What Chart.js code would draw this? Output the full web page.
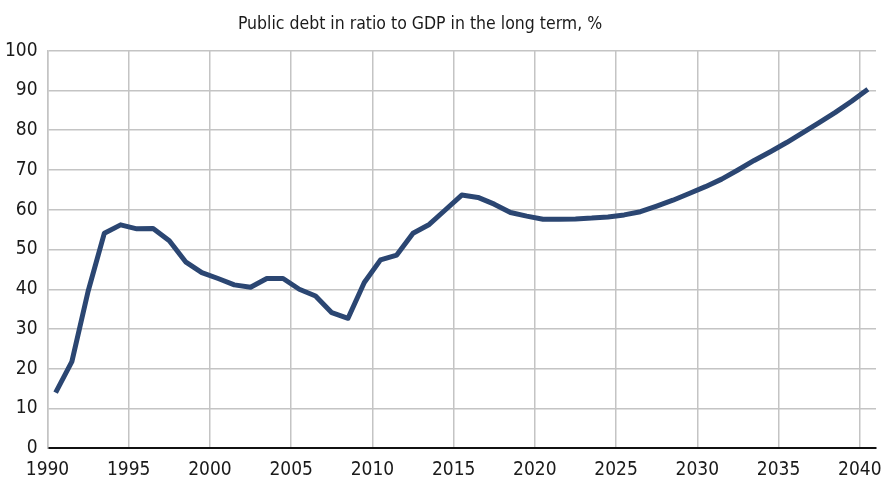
<!DOCTYPE html>
<html>
<head>
<meta charset="utf-8">
<script src="https://cdn.jsdelivr.net/npm/chart.js@4/dist/chart.umd.min.js"></script>
<style>
    html, body { margin: 0; padding: 0; background: #fff; }
    #wrap { width: 882px; height: 486px; }
</style>
</head>
<body>
<div id="wrap"><canvas id="debtChart"></canvas></div>
<script>
// Годы (точки стоят в середине года)
const years = [
    1990, 1991, 1992, 1993, 1994, 1995, 1996, 1997, 1998, 1999,
    2000, 2001, 2002, 2003, 2004, 2005, 2006, 2007, 2008, 2009,
    2010, 2011, 2012, 2013, 2014, 2015, 2016, 2017, 2018, 2019,
    2020, 2021, 2022, 2023, 2024, 2025, 2026, 2027, 2028, 2029,
    2030, 2031, 2032, 2033, 2034, 2035, 2036, 2037, 2038, 2039,
    2040
];
// Госдолг, % ВВП
const debtValues = [
    14.0, 21.8, 39.5, 54.1, 56.2, 55.2, 55.3, 52.2, 46.9, 44.2,
    42.7, 41.1, 40.5, 42.7, 42.7, 40.0, 38.3, 34.1, 32.7, 41.7,
    47.4, 48.6, 54.1, 56.3, 60.0, 63.7, 63.1, 61.4, 59.3, 58.4,
    57.6, 57.6, 57.7, 57.9, 58.2, 58.7, 59.5, 60.9, 62.4, 64.1,
    65.8, 67.7, 70.0, 72.4, 74.6, 76.9, 79.4, 81.9, 84.5, 87.3,
    90.3
];
const xTicks = [1990, 1995, 2000, 2005, 2010, 2015, 2020, 2025, 2030, 2035, 2040];
const titleText = 'Public debt in ratio to GDP in the long term, %';

const fontFamily = '"DejaVu Sans Condensed", sans-serif';

const points = years.map((y, i) => ({x: y + 0.5, y: debtValues[i]}));

// Заголовок в оригинале сдвинут левее центра, рисуем его сами
const titlePlugin = {
    id: 'offsetTitle',
    afterDraw(chart) {
        const c = chart.ctx;
        c.save();
        c.font = `17.5px ${fontFamily}`;
        c.fillStyle = '#1a1a1a';
        c.textAlign = 'center';
        c.textBaseline = 'middle';
        c.fillText(titleText, 420, 24);
        c.restore();
    }
};

const ctx = document.getElementById('debtChart').getContext('2d');
new Chart(ctx, {
    type: 'line',
    data: {
        datasets: [{
            data: points,
            borderColor: '#2b4672',
            borderWidth: 5,
            pointRadius: 0,
            tension: 0,
            borderJoinStyle: 'round',
            borderCapStyle: 'butt'
        }]
    },
    options: {
        responsive: true,
        maintainAspectRatio: false,
        animation: false,
        layout: {padding: {left: 0, right: 6, top: 50.7, bottom: 0}},
        plugins: {
            legend: {display: false},
            tooltip: {enabled: false},
            title: {display: false}
        },
        scales: {
            x: {
                type: 'linear',
                min: 1990,
                max: 2041,
                afterBuildTicks: scale => {
                    scale.ticks = xTicks.map(v => ({value: v}));
                },
                afterFit: scale => {
                    scale.height = 37.7;
                    scale.paddingLeft = 0;
                    scale.paddingRight = 0;
                },
                ticks: {
                    color: '#1a1a1a',
                    font: {family: fontFamily, size: 19},
                    padding: 10,
                    maxRotation: 0,
                    callback: v => String(v)
                },
                grid: {color: '#c4c4c4', lineWidth: 1.5, drawTicks: false},
                border: {display: true, color: '#111', width: 2}
            },
            y: {
                min: 0,
                max: 100,
                afterFit: scale => { scale.width = 47.5; },
                ticks: {
                    stepSize: 10,
                    color: '#1a1a1a',
                    font: {family: fontFamily, size: 19},
                    padding: 10
                },
                grid: {
                    color: c => c.tick && c.tick.value === 0 ? '#111' : '#c4c4c4',
                    lineWidth: c => c.tick && c.tick.value === 0 ? 2 : 1.5,
                    drawTicks: false
                },
                border: {display: true, color: '#c4c4c4', width: 1.5}
            }
        }
    },
    plugins: [titlePlugin]
});
</script>
</body>
</html>
